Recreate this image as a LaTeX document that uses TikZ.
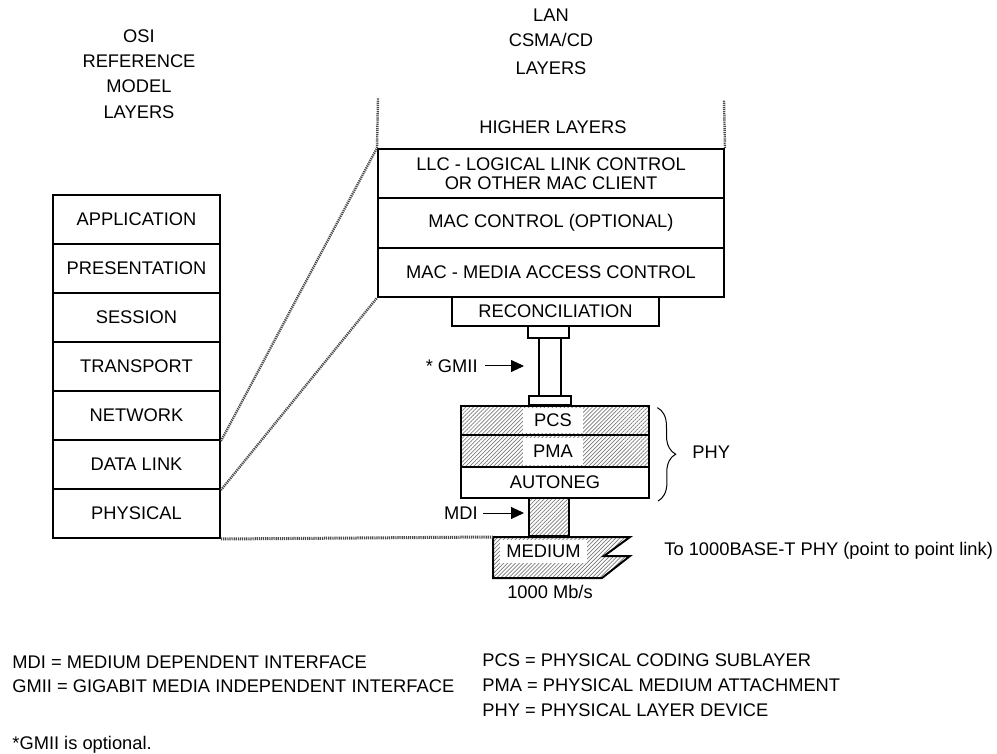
\documentclass[tikz,border=0pt]{standalone}
\usepackage{fontspec}
\setmainfont{Liberation Sans}
\usepackage{xcolor}
\definecolor{osiNoir}{HTML}{000000}
\definecolor{osiHachure}{HTML}{4A4A4A}
\definecolor{osiTrame}{HTML}{7A7A7A}
\usepackage{tikz}
\usetikzlibrary{arrows.meta, positioning, patterns.meta, decorations.pathreplacing}
\tikzset{
  %% ── Boxes ────────────────────────────────────────────────────────────
  %% A layer is a plain ruled box; a tramée layer carries the fine grey
  %% hatch of the physical sublayers and needs a white patch for its name.
  couche/.style       = {draw=osiNoir, line width=1pt, fill=white, align=center,
                         inner sep=0pt, text=osiNoir,
                         font=\fontsize{9.15}{9.5}\selectfont},
  coucheTramee/.style = {draw=osiNoir, line width=1pt, inner sep=0pt,
                         pattern={Lines[angle=45, distance=1.4pt, line width=0.35pt]},
                         pattern color=osiTrame},
  pastille/.style     = {fill=white, inner sep=0pt, text=osiNoir,
                         font=\fontsize{9.15}{9.5}\selectfont},
  %%
  %% ── Lines ────────────────────────────────────────────────────────────
  %% The links between the two stacks are printed as a grey screen, not as
  %% a solid rule, so they stay behind the boxes they join.
  lienHachure/.style  = {draw=osiHachure, line width=1.2pt,
                         dash pattern=on 0.6pt off 0.45pt},
  fleche/.style       = {-{Triangle[length=6.5pt, width=6pt]}, draw=osiNoir,
                         line width=0.5pt},
  accolade/.style     = {draw=osiNoir, line width=0.5pt, decorate,
                         decoration={brace, amplitude=9pt}},
  %%
  %% ── Text ─────────────────────────────────────────────────────────────
  etiquette/.style    = {inner sep=0pt, text=osiNoir,
                         font=\fontsize{9.15}{9.5}\selectfont},
}

\begin{document}
\begin{tikzpicture}[x=0.5pt, y=-0.5pt,
    osi/.style = {couche, minimum width=83.5pt, minimum height=24.5pt},
    lan/.style = {couche, minimum width=173pt, minimum height=24.65pt}]

\useasboundingbox (0,0) rectangle (997,754);

\foreach \txt/\y [count=\i] in {OSI/36, REFERENCE/61, MODEL/86, LAYERS/112}
  \node[etiquette] (titreOsi\i) at (139, \y) {\txt};
\foreach \txt/\y [count=\i] in {LAN/15, {CSMA/CD}/40, LAYERS/68}
  \node[etiquette] (titreLan\i) at (551, \y) {\txt};

\foreach \nom/\txt [count=\i] in {app/APPLICATION, pres/PRESENTATION, sess/SESSION,
    trans/TRANSPORT, net/NETWORK, dl/DATA LINK, phys/PHYSICAL}
  \node[osi] (\nom) at (136.5, 170.5+49*\i) {\txt};

\node[etiquette] (higher) at (553, 127) {HIGHER LAYERS};
\node[lan] (llc)     at (551, 173.6) {LLC - LOGICAL LINK CONTROL\\OR OTHER MAC CLIENT};
\node[lan] (macCtrl) at (551, 222.9) {MAC CONTROL (OPTIONAL)};
\node[lan] (mac)     at (551, 272.2) {MAC - MEDIA ACCESS CONTROL};
\coordinate (hautG) at (378, 98);
\coordinate (hautD) at (724, 100);

\node[couche, minimum width=103.5pt, minimum height=14.5pt] (rec) at (555.5, 311.5)
     {RECONCILIATION};
\node[couche, minimum width=20.5pt, minimum height=6pt]  (gmiiHaut)  at (548.5, 332) {};
\node[couche, minimum width=11pt, minimum height=29pt]   (gmiiBarre) at (550, 367) {};
\node[couche, minimum width=21pt, minimum height=4.5pt]  (gmiiBas)   at (550, 400.5) {};

\node[coucheTramee, minimum width=94pt, minimum height=14.5pt] (pcs) at (555, 420.5) {};
\node[coucheTramee, minimum width=94pt, minimum height=16pt]   (pma) at (555, 451) {};
\node[couche, minimum width=94pt, minimum height=15.5pt] (autoneg) at (555, 482.5) {AUTONEG};
\node[pastille, minimum width=30pt, minimum height=12.5pt] (pcsTxt) at (553, 420.5) {PCS};
\node[pastille, minimum width=30pt, minimum height=13.5pt] (pmaTxt) at (553, 451.5) {PMA};
\node[coucheTramee, minimum width=20pt, minimum height=19pt] (mdi) at (549, 517) {};

\coordinate (medNO) at (493, 537);
\path[coucheTramee] (medNO) -- (630, 537) -- (604, 556) -- (630, 556) -- (602, 578)
     -- (493, 578) -- cycle;
\node[pastille, minimum width=43.5pt, minimum height=11.5pt] (mediumTxt) at (543.5, 551.5)
     {MEDIUM};

\draw[lienHachure] (llc.north west) -- (hautG);
\draw[lienHachure] (llc.north east) -- (hautD);
\draw[lienHachure] (net.south east) -- (llc.north west);
\draw[lienHachure] (dl.south east) -- (mac.south west);
\draw[lienHachure, line width=1.5pt] (phys.south east) -- (medNO);

\node[etiquette, anchor=east] (gmiiTxt) at (478, 366) {* GMII};
\draw[fleche, shorten <=3.5pt, shorten >=7pt] (gmiiTxt.east) -- (gmiiTxt.east -| gmiiBarre.west);
\node[etiquette, anchor=east] (mdiTxt) at (478, 513) {MDI};
\draw[fleche, shorten <=2.5pt, shorten >=2pt] (mdiTxt.east) -- (mdiTxt.east -| mdi.west);

\draw[accolade] ([xshift=4pt, yshift=-1pt]pcs.north east)
             -- ([xshift=4pt, yshift=-1pt]autoneg.south east);
\node[etiquette, anchor=west] (phyTxt) at (692, 452) {PHY};
\node[etiquette, anchor=west] (versTxt) at (664, 551) {To 1000BASE-T PHY (point to point link)};
\node[etiquette] (debitTxt) at (550, 592) {1000 Mb/s};

\node[etiquette, anchor=west] (noteMdi)  at (12, 662) {MDI = MEDIUM DEPENDENT INTERFACE};
\node[etiquette, anchor=west] (noteGmii) at (12, 686) {GMII = GIGABIT MEDIA INDEPENDENT INTERFACE};
\node[etiquette, anchor=west] (notePcs)  at (482, 660) {PCS = PHYSICAL CODING SUBLAYER};
\node[etiquette, anchor=west] (notePma)  at (482, 685) {PMA = PHYSICAL MEDIUM ATTACHMENT};
\node[etiquette, anchor=west] (notePhy)  at (482, 710) {PHY = PHYSICAL LAYER DEVICE};
\node[etiquette, anchor=west] (noteOpt)  at (12, 745) {*GMII is optional.};

\end{tikzpicture}
\end{document}
